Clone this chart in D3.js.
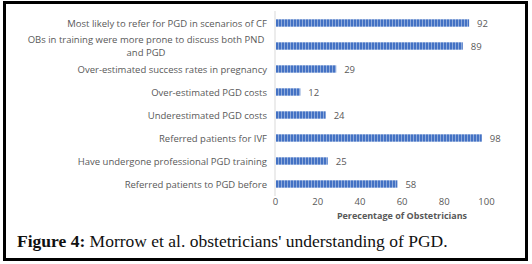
<!DOCTYPE html>
<html lang="en">
<head>
<meta charset="utf-8">
<title>Figure 4</title>
<script src="https://d3js.org/d3.v7.min.js"></script>
<style>
  body { margin: 0; background: #fff; }
  .lbl { font-family: "Open Sans", "Liberation Sans", sans-serif; font-size: 9.5px; fill: #595959; }
</style>
</head>
<body>
<script>
// data
const categories = [
  ["Most likely to refer for PGD in scenarios of CF"],
  ["OBs in training were more prone to discuss both PND", "and PGD"],
  ["Over-estimated success rates in pregnancy"],
  ["Over-estimated PGD costs"],
  ["Underestimated PGD costs"],
  ["Referred patients for IVF"],
  ["Have undergone professional PGD training"],
  ["Referred patients to PGD before"]
];
const values = [92, 89, 29, 12, 24, 98, 25, 58];
const xTicks = [0, 20, 40, 60, 80, 100];

const w = 532, h = 264;
const svg = d3.select("body").append("svg").attr("width", w).attr("height", h);

// striped bar fill
const pat = svg.append("defs").append("pattern")
  .attr("id", "stripe").attr("patternUnits", "userSpaceOnUse")
  .attr("width", 3).attr("height", 10);
pat.append("rect").attr("width", 3).attr("height", 10).attr("fill", "#4472c4");
pat.append("rect").attr("x", 2).attr("width", 1).attr("height", 10).attr("fill", "#8eaadb");

// frame
svg.append("rect").attr("x", 4.5).attr("y", 2.5).attr("width", 522).attr("height", 257)
  .attr("fill", "none").attr("stroke", "#000").attr("stroke-width", 3);

const x = d3.scaleLinear().domain([0, 100]).range([275, 486]);
const y = d3.scaleBand().domain(d3.range(values.length)).range([11.5, 195.5]).paddingInner(0.68).paddingOuter(0.34);

// bars
svg.selectAll(".bar").data(values).join("rect")
  .attr("x", x(0) + 1)
  .attr("y", (d, i) => y(i))
  .attr("width", d => x(d) - x(0) - 1)
  .attr("height", y.bandwidth())
  .attr("fill", "url(#stripe)");

// value labels
svg.selectAll(".val").data(values).join("text")
  .attr("class", "lbl")
  .attr("x", d => x(d) + 8)
  .attr("y", (d, i) => y(i) + y.bandwidth() / 2 + 3.5)
  .text(d => d);

// category labels (the long one wraps on two lines)
categories.forEach((lines, i) => {
  const cy = y(i) + y.bandwidth() / 2;
  lines.forEach((s, k) => {
    svg.append("text").attr("class", "lbl")
      .attr("text-anchor", lines.length > 1 ? "middle" : "end")
      .attr("x", lines.length > 1 ? 146 : 267)
      .attr("y", cy + 3.5 - (lines.length - 1) * 6.5 + k * 13)
      .text(s);
  });
});

// y axis line
svg.append("line").attr("x1", x(0)).attr("x2", x(0)).attr("y1", 11).attr("y2", 196)
  .attr("stroke", "#d9d9d9").attr("stroke-width", 1);

// x axis
const xAxis = d3.axisBottom(x).tickValues(xTicks).tickSize(0).tickPadding(0);
const gx = svg.append("g").attr("transform", "translate(0,199)").call(xAxis);
gx.select(".domain").remove();
gx.selectAll("text").attr("class", "lbl").attr("font-size", null).attr("font-family", null).attr("fill", null).attr("dy", "0.6em");

svg.append("text").attr("class", "lbl")
  .attr("x", 402).attr("y", 219).attr("text-anchor", "middle")
  .attr("font-weight", "bold").style("font-size", "9px")
  .text("Perecentage of Obstetricians");

// caption
const cap = svg.append("text").attr("x", 17).attr("y", 247)
  .attr("font-family", "'Liberation Serif', serif")
  .attr("font-size", "17.5px").attr("fill", "#111");
cap.append("tspan").attr("font-weight", "bold").text("Figure 4:");
cap.append("tspan").text(" Morrow et al. obstetricians' understanding of PGD.");
</script>
</body>
</html>
